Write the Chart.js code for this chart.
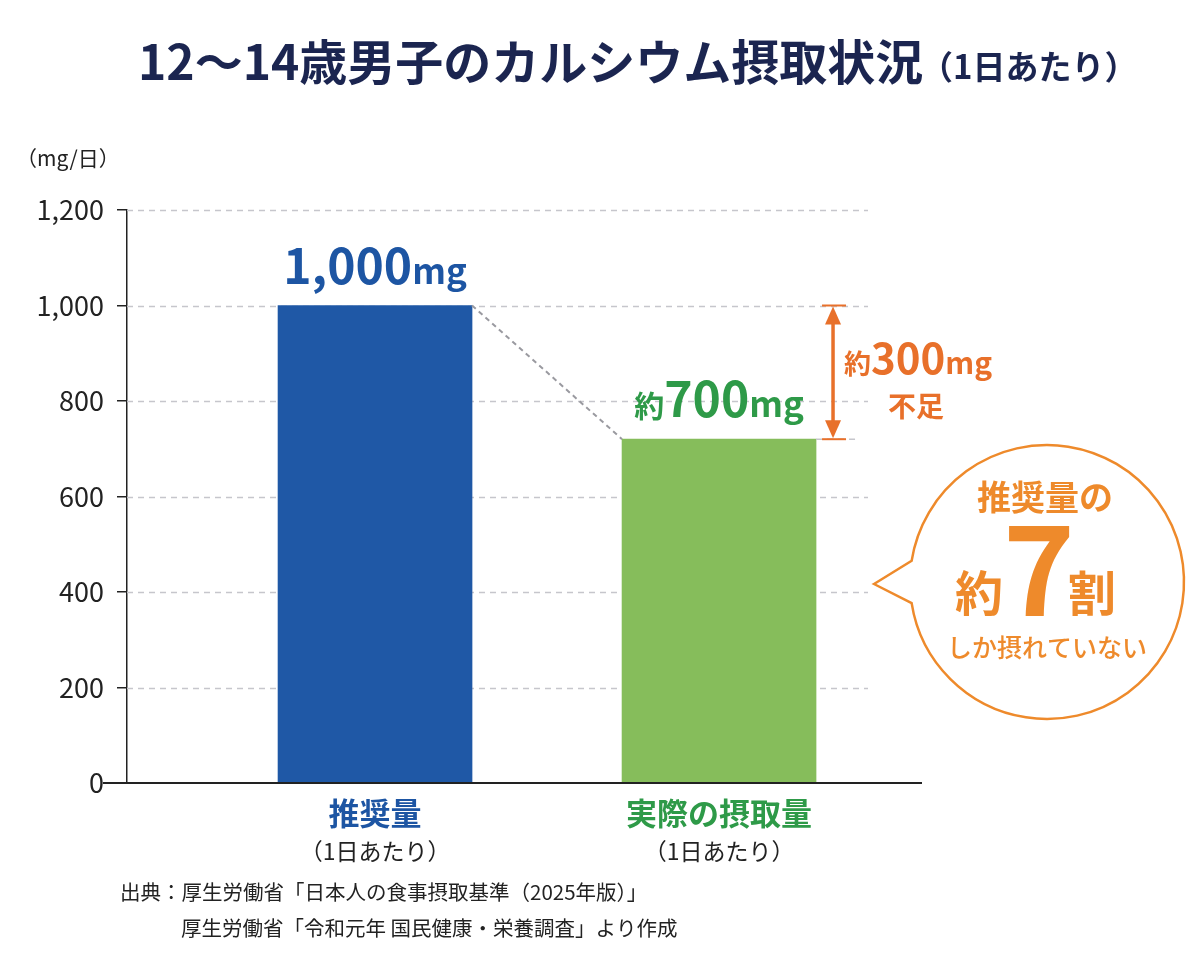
<!DOCTYPE html>
<html lang="ja">
<head>
<meta charset="UTF-8">
<title>12〜14歳男子のカルシウム摂取状況</title>
<script src="https://cdn.jsdelivr.net/npm/chart.js"></script>
<style>
  html, body { margin: 0; padding: 0; background: #fff; }
</style>
</head>
<body>
<canvas id="myChart" width="1200" height="960"></canvas>
<script>
// data
const categories = ['推奨量', '実際の摂取量'];
const subLabels = ['（1日あたり）', '（1日あたり）'];
const values = [1000, 720];
const valueLabels = [['', '1,000', 'mg'], ['約', '700', 'mg']];
const yMin = 0, yMax = 1200, yStep = 200;

const barColors = ['#1f58a6', '#86bd5b'];
const textColors = ['#1d55a3', '#2e9a48'];
const ORANGE = '#e8702a';
const BUBBLE = '#ee8a2b';
const FONT = '"Noto Sans CJK JP", "Noto Sans", sans-serif';

function font(size, weight) {
    return (weight || 'normal') + ' ' + size + 'px ' + FONT;
}

// draw text pieces with different sizes on one baseline, centred on cx
function drawParts(ctx, parts, cx, baseline, color) {
    ctx.save();
    ctx.fillStyle = color;
    ctx.textBaseline = 'alphabetic';
    ctx.textAlign = 'left';
    let total = 0;
    parts.forEach(p => { ctx.font = font(p.size, 'bold'); p.w = p.text ? ctx.measureText(p.text).width : 0; total += p.w; });
    let x = cx - total / 2;
    parts.forEach(p => {
        ctx.font = font(p.size, 'bold');
        if (p.text) ctx.fillText(p.text, x, baseline);
        x += p.w;
    });
    ctx.restore();
}

function text(ctx, str, x, y, size, weight, color, align) {
    ctx.font = font(size, weight);
    ctx.fillStyle = color;
    ctx.textAlign = align || 'center';
    ctx.textBaseline = 'middle';
    ctx.fillText(str, x, y);
}

const decor = {
    id: 'decor',
    beforeDatasetsDraw(chart) {
        const ctx = chart.ctx, y = chart.scales.y, area = chart.chartArea;
        ctx.save();
        ctx.strokeStyle = '#c6c6cc';
        ctx.lineWidth = 1.5;
        ctx.setLineDash([6, 5]);
        for (let v = yMin + yStep; v <= yMax; v += yStep) {
            const py = Math.round(y.getPixelForValue(v)) + 0.5;
            ctx.beginPath();
            ctx.moveTo(area.left, py);
            ctx.lineTo(868, py);
            ctx.stroke();
        }
        ctx.restore();
    },
    afterDatasetsDraw(chart) {
        const ctx = chart.ctx, ys = chart.scales.y, area = chart.chartArea;
        const bars = chart.getDatasetMeta(0).data;
        ctx.save();

        // baseline (x axis)
        const y0 = ys.getPixelForValue(0);
        ctx.strokeStyle = '#222';
        ctx.lineWidth = 2;
        ctx.beginPath();
        ctx.moveTo(103, y0);
        ctx.lineTo(area.right, y0);
        ctx.stroke();

        // connector between bar tops
        const b0 = bars[0], b1 = bars[1];
        ctx.strokeStyle = '#9a9aa0';
        ctx.lineWidth = 2;
        ctx.setLineDash([5, 4]);
        ctx.beginPath();
        ctx.moveTo(b0.x + b0.width / 2, b0.y);
        ctx.lineTo(b1.x - b1.width / 2, b1.y);
        ctx.stroke();
        // level line next to green bar
        ctx.strokeStyle = '#c6c6cc';
        ctx.lineWidth = 1.5;
        ctx.setLineDash([6, 5]);
        ctx.beginPath();
        ctx.moveTo(b1.x + b1.width / 2, b1.y);
        ctx.lineTo(860, b1.y);
        ctx.stroke();
        ctx.setLineDash([]);

        // value labels
        bars.forEach((b, i) => {
            const p = valueLabels[i];
            drawParts(ctx, [{text: p[0], size: 30}, {text: p[1], size: 48}, {text: p[2], size: 35}], b.x, b.y - 22, textColors[i]);
        });

        // difference arrow
        const ax = b1.x + b1.width / 2 + 17;
        const top = ys.getPixelForValue(values[0]), bot = ys.getPixelForValue(values[1]);
        ctx.strokeStyle = ORANGE;
        ctx.fillStyle = ORANGE;
        ctx.lineWidth = 2;
        [top, bot].forEach(py => {
            ctx.beginPath();
            ctx.moveTo(ax - 11, py);
            ctx.lineTo(ax + 13, py);
            ctx.stroke();
        });
        ctx.lineWidth = 3.5;
        ctx.beginPath();
        ctx.moveTo(ax, top + 12);
        ctx.lineTo(ax, bot - 12);
        ctx.stroke();
        ctx.beginPath();
        ctx.moveTo(ax, top + 1); ctx.lineTo(ax - 8, top + 19); ctx.lineTo(ax + 8, top + 19); ctx.closePath(); ctx.fill();
        ctx.beginPath();
        ctx.moveTo(ax, bot - 1); ctx.lineTo(ax - 8, bot - 19); ctx.lineTo(ax + 8, bot - 19); ctx.closePath(); ctx.fill();

        drawParts(ctx, [{text: '約', size: 27}, {text: '300', size: 42}, {text: 'mg', size: 30}], 918, 374, ORANGE);
        text(ctx, '不足', 916, 406, 28, 'bold', ORANGE);

        // speech bubble
        const cx = 1047, cy = 582, r = 137, a = 0.155;
        ctx.beginPath();
        ctx.moveTo(874, 584);
        ctx.lineTo(cx + r * Math.cos(Math.PI + a), cy + r * Math.sin(Math.PI + a));
        ctx.arc(cx, cy, r, Math.PI + a, 3 * Math.PI - a);
        ctx.closePath();
        ctx.fillStyle = '#fff';
        ctx.fill();
        ctx.strokeStyle = BUBBLE;
        ctx.lineWidth = 2.5;
        ctx.stroke();
        text(ctx, '推奨量の', 1045, 497, 34, 'bold', BUBBLE);
        text(ctx, '約', 979, 593, 48, 'bold', BUBBLE);
        text(ctx, '割', 1092, 593, 48, 'bold', BUBBLE);
        ctx.font = font(122, 'bold');
        ctx.textBaseline = 'alphabetic';
        ctx.textAlign = 'center';
        ctx.fillText('7', 1039, 616);
        text(ctx, 'しか摂れていない', 1047, 647, 25, '500', BUBBLE);

        // category labels
        bars.forEach((b, i) => {
            text(ctx, categories[i], b.x, 813, 31, 'bold', textColors[i]);
            text(ctx, subLabels[i], b.x, 851, 23, 'normal', '#222');
        });

        // title
        ctx.fillStyle = '#1b2550';
        ctx.textBaseline = 'alphabetic';
        ctx.textAlign = 'left';
        ctx.font = font(48, 'bold');
        ctx.fillText('12〜14歳男子のカルシウム摂取状況', 138, 80);
        ctx.font = font(33, 'bold');
        ctx.fillText('（1日あたり）', 920, 79);

        // unit
        text(ctx, '（mg/日）', 16, 158, 21, 'normal', '#222', 'left');

        // source
        text(ctx, '出典：厚生労働省「日本人の食事摂取基準（2025年版）」', 120, 892, 20.5, 'normal', '#222', 'left');
        text(ctx, '厚生労働省「令和元年 国民健康・栄養調査」より作成', 181, 928, 20.5, 'normal', '#222', 'left');

        ctx.restore();
    }
};

const ctx = document.getElementById('myChart').getContext('2d');
const myChart = new Chart(ctx, {
    type: 'bar',
    data: {
        datasets: [{
            data: values.map((v, i) => ({x: i, y: v})),
            backgroundColor: barColors,
            barThickness: 194
        }]
    },
    options: {
        responsive: false,
        animation: false,
        layout: { padding: { top: 210, bottom: 177, left: 0, right: 278 } },
        plugins: {
            legend: { display: false },
            tooltip: { enabled: false }
        },
        scales: {
            x: { type: 'linear', min: -0.721, max: 1.59, offset: false, display: false },
            y: {
                min: yMin,
                max: yMax,
                ticks: {
                    stepSize: yStep,
                    padding: 13,
                    color: '#222',
                    font: { family: FONT, size: 27 },
                    callback: v => v.toLocaleString('en-US')
                },
                grid: { color: 'transparent', tickColor: '#222', tickLength: 10, lineWidth: 1.5 },
                border: { color: '#222', width: 1.5 },
                afterFit: s => { s.width = 127; }
            }
        }
    },
    plugins: [decor]
});
</script>
</body>
</html>
